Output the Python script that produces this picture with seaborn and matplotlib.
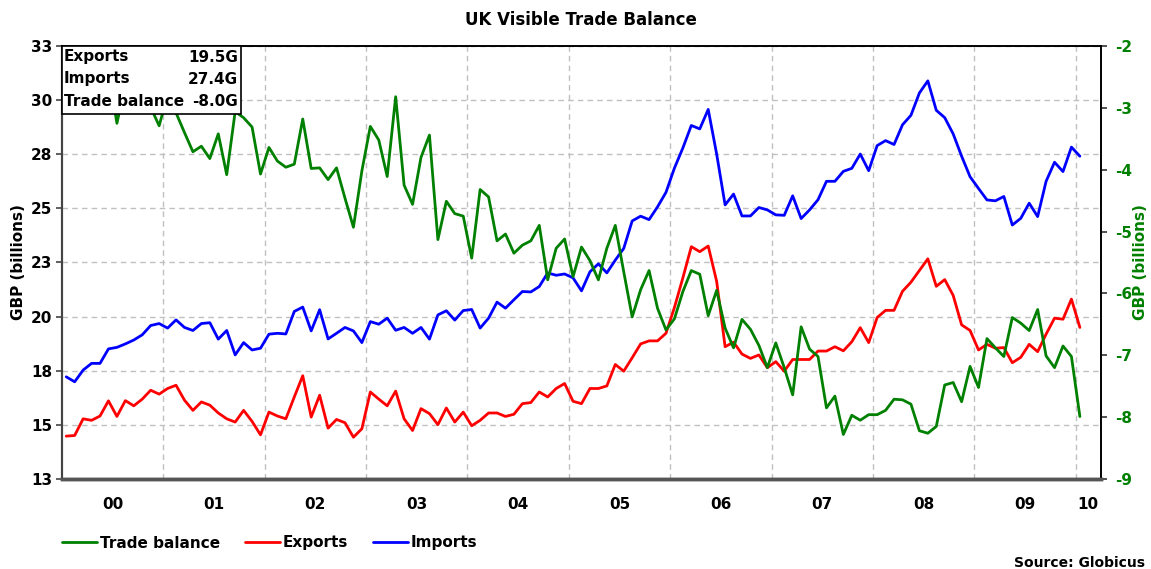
import numpy as np
import pandas as pd
import matplotlib
matplotlib.use("Agg")
import matplotlib.pyplot as plt
from matplotlib.patches import Rectangle
import seaborn as sns

# ---------------- data (monthly, Jan 2000 - Jan 2010) ----------------
start_year = 2000
exports = [14.48, 14.51, 15.28, 15.21, 15.41, 16.11, 15.39, 16.12, 15.88, 16.19, 16.60, 16.42,
           16.68, 16.83, 16.14, 15.67, 16.06, 15.91, 15.55, 15.28, 15.13, 15.67, 15.16, 14.54,
           15.59, 15.41, 15.28, 16.29, 17.27, 15.36, 16.37, 14.85, 15.25, 15.10, 14.43, 14.82,
           16.52, 16.19, 15.88, 16.56, 15.28, 14.74, 15.75, 15.52, 15.01, 15.78, 15.13, 15.59,
           14.96, 15.21, 15.55, 15.55, 15.39, 15.49, 15.98, 16.03, 16.52, 16.29, 16.68, 16.91,
           16.09, 15.98, 16.68, 16.68, 16.80, 17.79, 17.48, 18.10, 18.74, 18.88, 18.88, 19.23,
           20.42, 21.79, 23.23, 23.00, 23.26, 21.63, 18.61, 18.82, 18.27, 18.07, 18.23, 17.64,
           17.92, 17.48, 18.02, 18.02, 18.02, 18.41, 18.41, 18.61, 18.42, 18.84, 19.49, 18.80,
           19.96, 20.29, 20.29, 21.17, 21.59, 22.13, 22.67, 21.40, 21.71, 20.98, 19.62, 19.36,
           18.46, 18.72, 18.54, 18.57, 17.87, 18.12, 18.72, 18.38, 19.19, 19.93, 19.88, 20.81,
           19.50]
imports = [17.22, 16.99, 17.53, 17.84, 17.84, 18.51, 18.58, 18.74, 18.92, 19.16, 19.59, 19.68,
           19.47, 19.85, 19.50, 19.36, 19.68, 19.72, 18.96, 19.36, 18.23, 18.80, 18.46, 18.54,
           19.19, 19.23, 19.20, 20.24, 20.44, 19.34, 20.32, 18.97, 19.23, 19.50, 19.34, 18.80,
           19.77, 19.65, 19.93, 19.37, 19.50, 19.23, 19.50, 18.96, 20.08, 20.27, 19.84, 20.28,
           20.33, 19.47, 19.93, 20.67, 20.39, 20.78, 21.16, 21.14, 21.39, 22.02, 21.91, 21.97,
           21.79, 21.19, 22.07, 22.44, 22.02, 22.61, 23.15, 24.42, 24.64, 24.48, 25.07, 25.74,
           26.86, 27.79, 28.83, 28.67, 29.57, 27.51, 25.16, 25.66, 24.65, 24.65, 25.04, 24.93,
           24.70, 24.68, 25.58, 24.53, 24.93, 25.40, 26.25, 26.25, 26.71, 26.85, 27.51, 26.74,
           27.90, 28.13, 27.95, 28.86, 29.30, 30.33, 30.89, 29.53, 29.19, 28.44, 27.41, 26.46,
           25.92, 25.39, 25.35, 25.55, 24.23, 24.54, 25.24, 24.62, 26.25, 27.13, 26.70, 27.83,
           27.41]
trade_balance = [-2.74, -2.48, -2.25, -2.63, -2.43, -2.40, -3.25, -2.62, -3.04, -2.97, -2.99, -3.29,
                 -2.79, -3.08, -3.40, -3.71, -3.62, -3.82, -3.42, -4.08, -3.06, -3.16, -3.31, -4.07,
                 -3.64, -3.86, -3.96, -3.91, -3.18, -3.98, -3.97, -4.16, -3.97, -4.46, -4.93, -4.02,
                 -3.30, -3.52, -4.11, -2.82, -4.25, -4.56, -3.80, -3.44, -5.13, -4.51, -4.71, -4.75,
                 -5.43, -4.32, -4.44, -5.15, -5.04, -5.35, -5.22, -5.15, -4.90, -5.78, -5.27, -5.12,
                 -5.73, -5.25, -5.47, -5.78, -5.27, -4.90, -5.65, -6.38, -5.94, -5.63, -6.24, -6.59,
                 -6.41, -5.97, -5.63, -5.69, -6.36, -5.95, -6.56, -6.88, -6.42, -6.58, -6.84, -7.20,
                 -6.80, -7.20, -7.64, -6.54, -6.90, -7.02, -7.85, -7.66, -8.28, -7.97, -8.05, -7.96,
                 -7.96, -7.89, -7.71, -7.72, -7.79, -8.22, -8.26, -8.15, -7.48, -7.44, -7.75, -7.18,
                 -7.52, -6.73, -6.88, -7.02, -6.39, -6.48, -6.60, -6.26, -7.01, -7.20, -6.85, -7.02,
                 -7.99]
left_ticks = [12.5, 15.0, 17.5, 20.0, 22.5, 25.0, 27.5, 30.0, 32.5]
left_tick_labels = ["13", "15", "18", "20", "23", "25", "28", "30", "33"]
right_ticks = [-9, -8, -7, -6, -5, -4, -3, -2]
year_labels = ["00", "01", "02", "03", "04", "05", "06", "07", "08", "09", "10"]
info_labels = ["Exports", "Imports", "Trade balance"]
info_values = ["19.5G", "27.4G", "-8.0G"]

n = len(exports)
t = start_year + (np.arange(n) + 0.5) / 12.0
df = pd.DataFrame({"t": t, "Exports": exports, "Imports": imports,
                   "Trade balance": trade_balance})

# ---------------- style ----------------
sns.set_style("white")
plt.rcParams["font.family"] = ["DejaVu Sans"]
plt.rcParams["font.weight"] = "bold"
for key in ("text.color", "axes.labelcolor", "xtick.color", "ytick.color"):
    plt.rcParams[key] = "black"

GREEN = "#008000"
RED = "#ff0000"
BLUE = "#0000ff"
FS = 11

fig = plt.figure(figsize=(11.51, 5.69), dpi=100)
ax = fig.add_axes([62 / 1151, 1 - 479 / 569, (1101 - 62) / 1151, (479 - 46) / 569])
ax2 = ax.twinx()

sns.lineplot(data=df, x="t", y="Exports", ax=ax, color=RED, lw=2.0, label="Exports", legend=False)
sns.lineplot(data=df, x="t", y="Imports", ax=ax, color=BLUE, lw=2.0, label="Imports", legend=False)
sns.lineplot(data=df, x="t", y="Trade balance", ax=ax2, color=GREEN, lw=2.0,
             label="Trade balance", legend=False)

xmax = start_year + 10.25
ax.set_xlim(start_year, xmax)
ax.set_ylim(12.5, 32.5)
ax2.set_ylim(-9, -2)

# x ticks: major at year boundaries (grid), minor at mid-years (labels)
major = np.arange(start_year + 1, start_year + 11)
minor = [start_year + k + 0.5 for k in range(10)] + [(start_year + 10 + xmax) / 2]
ax.set_xticks(major)
ax.set_xticklabels([])
ax.set_xticks(minor, minor=True)
ax.set_xticklabels(year_labels, minor=True, fontsize=FS, fontweight="bold")
ax.tick_params(axis="x", which="major", length=5, width=1.2, color="#444444", direction="out")
ax.tick_params(axis="x", which="minor", length=0, pad=13)

ax.set_yticks(left_ticks)
ax.set_yticklabels(left_tick_labels, fontsize=FS, fontweight="bold")
ax.tick_params(axis="y", length=4, width=1.2, color="#444444", direction="out", pad=3)
ax2.set_yticks(right_ticks)
ax2.set_yticklabels([str(v) for v in right_ticks], fontsize=FS, fontweight="bold", color=GREEN)
ax2.tick_params(axis="y", length=4, width=1.2, color="#333333", direction="out", pad=6)

ax.grid(True, which="major", axis="both", color="#c0c0c0", linestyle=(0, (4, 3)), lw=1.0)
ax.set_axisbelow(True)

ax.set_xlabel("")
ax.set_ylabel("GBP (billions)", fontsize=FS, fontweight="bold")
ax.yaxis.set_label_coords((26 - 62) / 1039, 0.5)
ax2.set_ylabel("GBP (billions)", fontsize=FS, fontweight="bold", color=GREEN, rotation=90)
ax2.yaxis.set_label_coords((1133 - 62) / 1039, 0.5)

for a in (ax, ax2):
    for s in a.spines.values():
        s.set_visible(True)
    a.spines["left"].set_color("#444444")
    a.spines["left"].set_linewidth(1.5)
    a.spines["bottom"].set_color("#555555")
    a.spines["bottom"].set_linewidth(2.5)
    a.spines["top"].set_color("black")
    a.spines["top"].set_linewidth(1.2)
    a.spines["right"].set_color("black")
    a.spines["right"].set_linewidth(1.2)

# info box
bw, bh = (241 - 62) / (1101 - 62), (114 - 46) / (479 - 46)
ax2.add_patch(Rectangle((0, 1 - bh), bw, bh, transform=ax2.transAxes, facecolor="white",
                        edgecolor="black", lw=1.2, zorder=10, clip_on=False))
row_y = [1 - (57 - 46) / 433, 1 - (79 - 46) / 433, 1 - (101 - 46) / 433]
for lab, val, yy in zip(info_labels, info_values, row_y):
    ax2.text(0.002, yy, lab, transform=ax2.transAxes, ha="left", va="center",
             fontsize=FS, fontweight="bold", zorder=11)
    ax2.text(bw - 0.003, yy, val, transform=ax2.transAxes, ha="right", va="center",
             fontsize=FS, fontweight="bold", zorder=11)

fig.text(581 / 1151, 1 - 20 / 569, "UK Visible Trade Balance", ha="center", va="center",
         fontsize=12, fontweight="bold")
fig.text(1145 / 1151, 1 - 563 / 569, "Source: Globicus", ha="right", va="center",
         fontsize=10, fontweight="bold")

h1, l1 = ax.get_legend_handles_labels()
h2, l2 = ax2.get_legend_handles_labels()
handles = h2 + h1
labels = l2 + l1
fig.legend(handles, labels, loc="center left", bbox_to_anchor=(62 / 1151, 1 - 543 / 569),
           ncol=3, frameon=False, handlelength=2.3, handletextpad=0.2,
           columnspacing=1.6, borderpad=0, borderaxespad=0,
           prop={"weight": "bold", "size": FS})

fig.savefig("out.png", dpi=100)
